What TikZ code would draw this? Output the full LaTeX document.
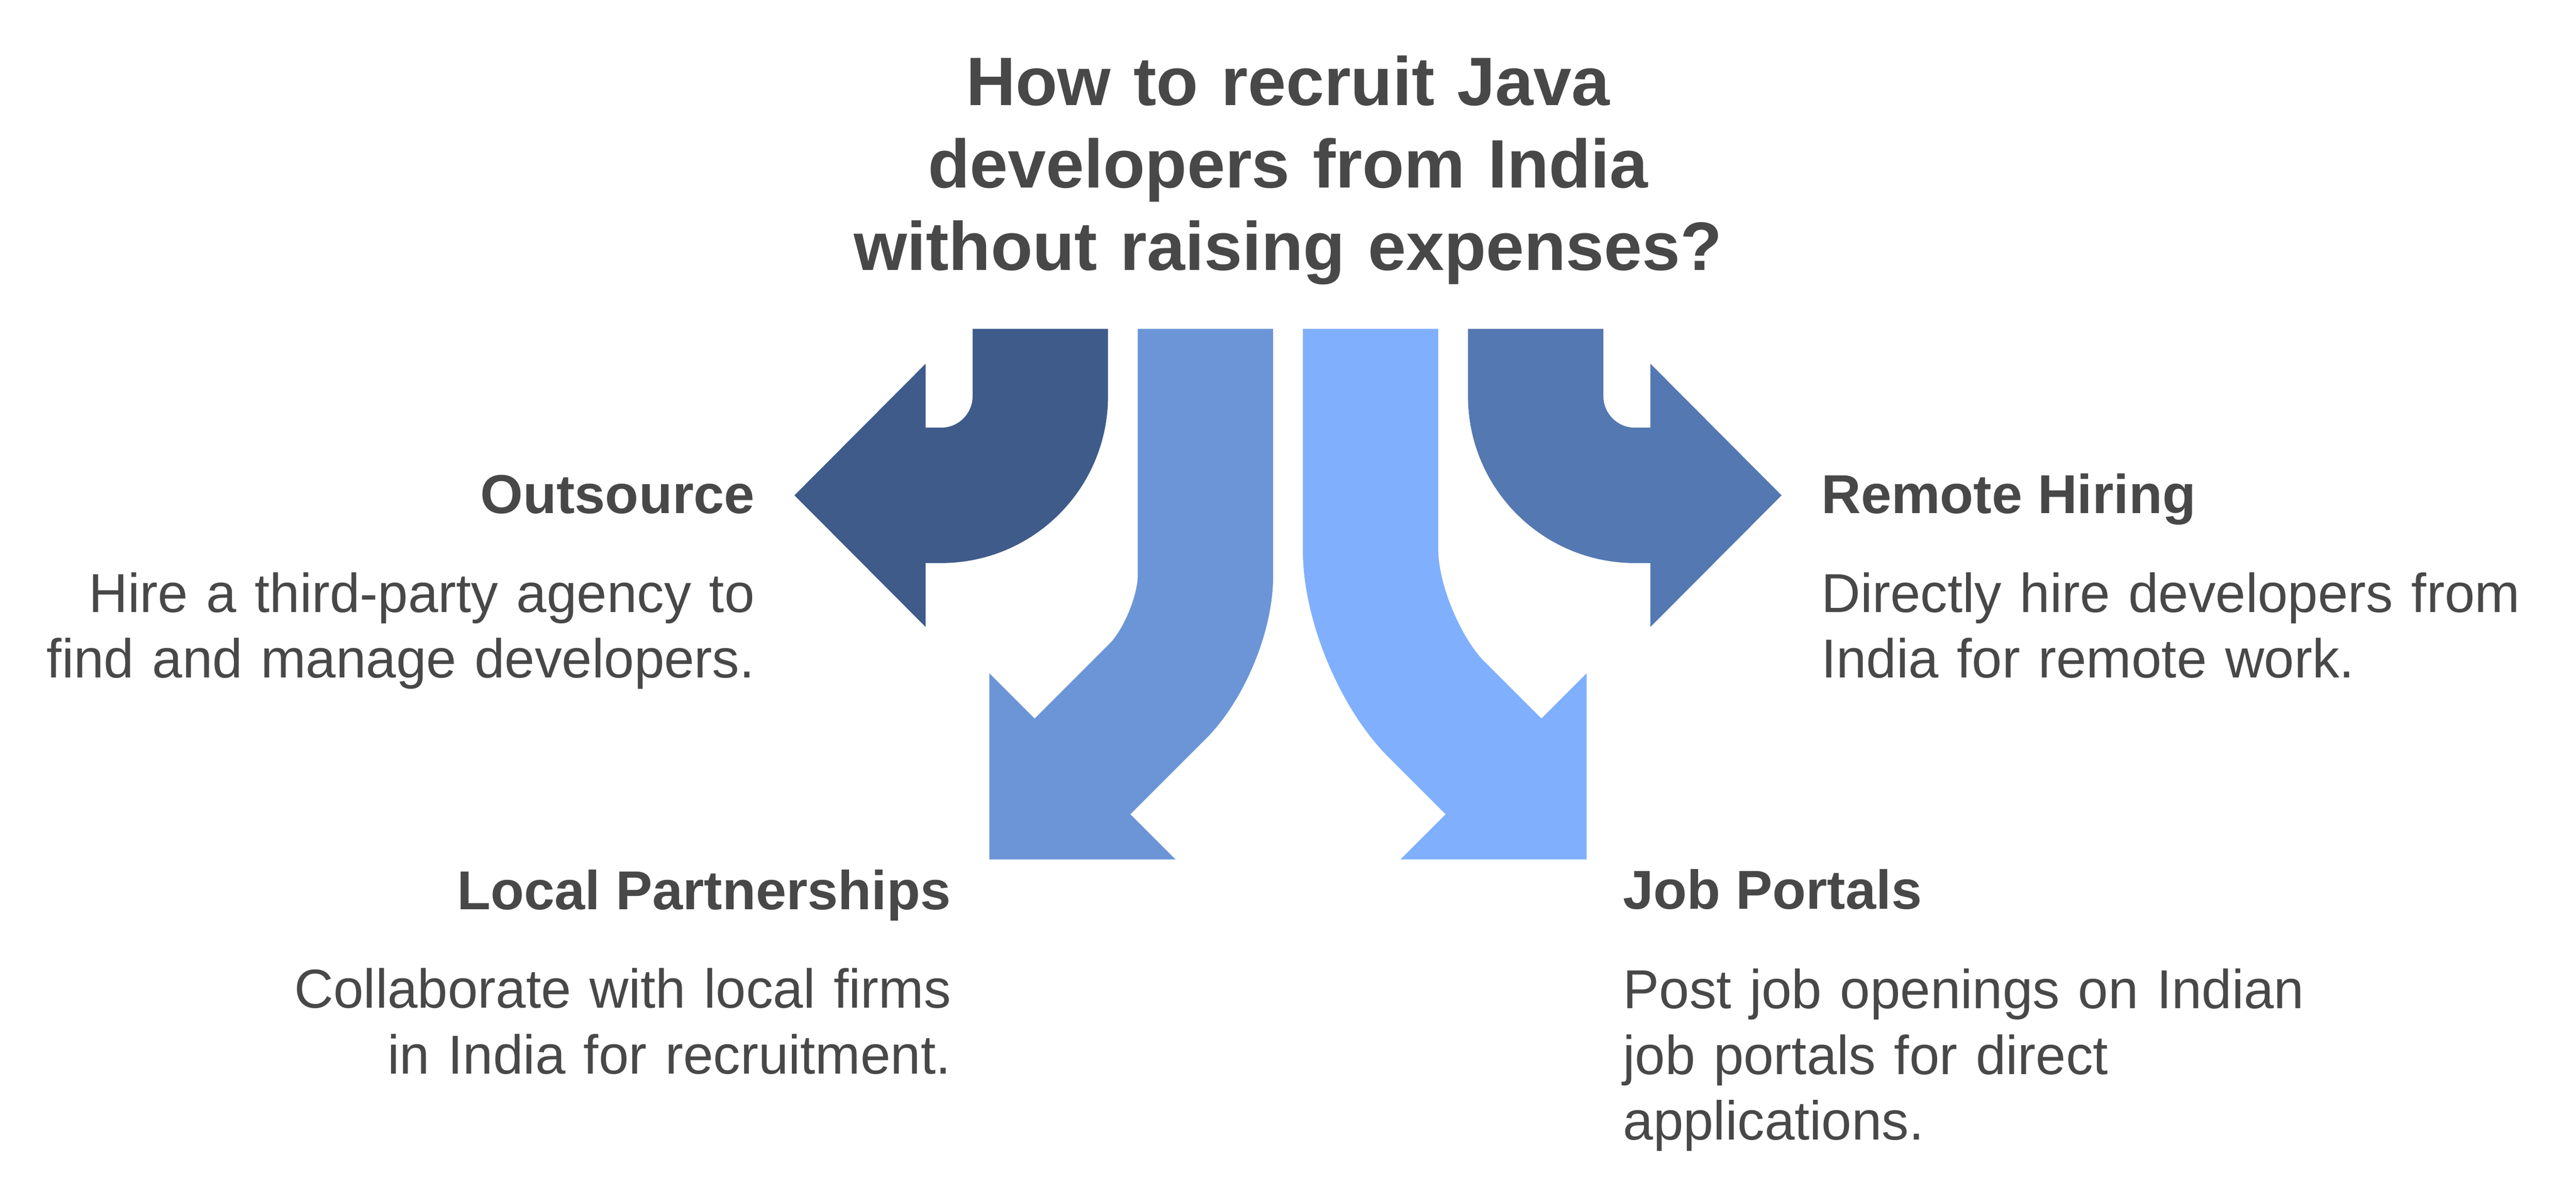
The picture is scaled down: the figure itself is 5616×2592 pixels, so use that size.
\documentclass[tikz,border=0pt]{standalone}
\usepackage{fontspec}
\setmainfont{Liberation Sans}
\newfontfamily\blurbfont{Liberation Sans}[FakeStretch=0.987]
\definecolor{ink}{HTML}{484848}
\definecolor{outsrc}{HTML}{3F5B8A}
\definecolor{partner}{HTML}{6B95D6}
\definecolor{portal}{HTML}{80AFFE}
\definecolor{remote}{HTML}{5478B1}

\begin{document}
\begin{tikzpicture}[x=0.01cm, y=-0.01cm,
  shaft/.style={line width=2.95cm},
  title/.style={font=\fontsize{42.5}{51.2}\selectfont\bfseries, text=ink,
    inner sep=0pt, text width=22cm, align=center, anchor=base},
  heading/.style={font=\fontsize{34}{40.7}\selectfont\bfseries, text=ink, inner sep=0pt},
  blurb/.style={font=\blurbfont\fontsize{34}{40.7}\selectfont, text=ink, inner sep=0pt, text width=16cm}]
  \path[fill=white] (0,0) rectangle (5616,2592);

  % the four arrows
  \draw[shaft, outsrc, rounded corners=2.16cm] (2268,717) |- (2012,1080);
  \fill[outsrc] (2018,793) -- (1732,1080) -- (2018,1367) -- cycle;
  \draw[shaft, partner, rounded corners=1.47cm] (2628,717) -- (2628,1403) -- (2356,1675);
  \fill[partner] (2157,1468) -- (2157,1874) -- (2563,1874) -- cycle;
  \draw[shaft, portal, rounded corners=2.03cm] (2988,717) -- (2988,1403) -- (3260,1675);
  \fill[portal] (3459,1468) -- (3459,1874) -- (3053,1874) -- cycle;
  \draw[shaft, remote, rounded corners=2.16cm] (3348,717) |- (3604,1080);
  \fill[remote] (3598,793) -- (3884,1080) -- (3598,1367) -- cycle;

  % texts
  \node[title] (q) at (2808,229.5) {How to recruit Java\\developers from India\\without raising expenses?};
  \node[heading, anchor=base east] (os) at (1646,1119) {Outsource};
  \node[blurb, align=right, anchor=base east] (osd) at (1646,1335)
    {Hire a third-party agency to\\find and manage developers.};
  \node[heading, anchor=base west] (rh) at (3970,1119) {Remote Hiring};
  \node[blurb, align=left, anchor=base west] (rhd) at (3970,1335)
    {Directly hire developers from\\India for remote work.};
  \node[heading, anchor=base east] (lp) at (2074,1983) {Local Partnerships};
  \node[blurb, align=right, anchor=base east] (lpd) at (2074,2198)
    {Collaborate with local firms\\in India for recruitment.};
  \node[heading, anchor=base west] (jp) at (3538,1982) {Job Portals};
  \node[blurb, align=left, anchor=base west] (jpd) at (3538,2199)
    {Post job openings on Indian\\job portals for direct\\applications.};
\end{tikzpicture}
\end{document}
